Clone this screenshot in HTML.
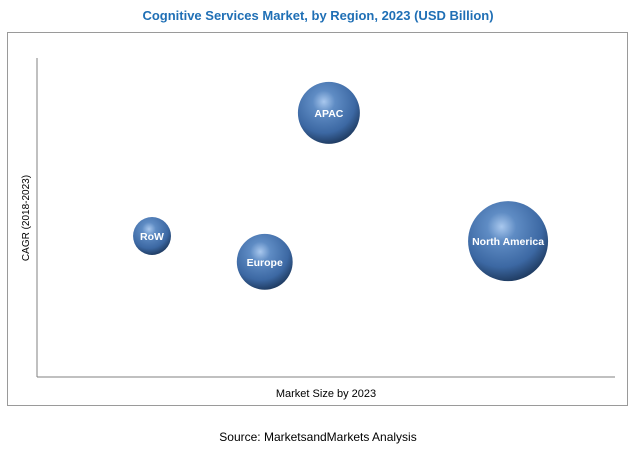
<!DOCTYPE html>
<html><head><meta charset="utf-8"><style>
body{margin:0;width:636px;height:450px;background:#fff;font-family:"Liberation Sans",sans-serif;overflow:hidden;position:relative}
.t{position:absolute}
</style></head><body>
<div class="t" style="left:0;width:636px;top:8px;text-align:center;color:#1f6fb5;font-weight:bold;font-size:13px">Cognitive Services Market, by Region, 2023 (USD Billion)</div>
<div class="t" style="left:7px;top:32px;width:621px;height:374px;border:1px solid #9a9a9a;box-sizing:border-box"></div>
<svg id="c" class="t" style="left:0;top:0" width="636" height="450">
<defs>
<radialGradient id="g" cx="0.42" cy="0.32" r="0.72">
<stop offset="0" stop-color="#a9c8ee"/>
<stop offset="0.25" stop-color="#5f8cc4"/>
<stop offset="0.7" stop-color="#3c68a3"/>
<stop offset="1" stop-color="#1b3558"/>
</radialGradient>
</defs>
<line x1="37" y1="58" x2="37" y2="377" stroke="#808080"/>
<line x1="37" y1="377" x2="615" y2="377" stroke="#808080"/>
<text x="326" y="397" text-anchor="middle" font-size="11" fill="#000">Market Size by 2023</text>
<text transform="translate(29,218) rotate(-90)" text-anchor="middle" font-size="10" fill="#000">CAGR (2018-2023)</text>
</svg>
<div class="t" style="left:0;width:636px;top:430px;text-align:center;font-size:12px;color:#000">Source: MarketsandMarkets Analysis</div>
<script>
const regions=["APAC","RoW","Europe","North America"];
const xValues=[50.5,19.9,39.4,81.5];
const yValues=[82.8,44.2,36.1,42.6];
const sizes=[9.6,3.6,7.8,16];
const xs=v=>37+v*5.78, ys=v=>377-v*3.19, rs=v=>10*Math.sqrt(v);
const svg=document.getElementById('c'),NS="http://www.w3.org/2000/svg";
regions.forEach((r,i)=>{
const c=document.createElementNS(NS,'circle');
c.setAttribute('cx',xs(xValues[i]));c.setAttribute('cy',ys(yValues[i]));c.setAttribute('r',rs(sizes[i]));c.setAttribute('fill','url(#g)');


svg.appendChild(c);
const t=document.createElementNS(NS,'text');
t.setAttribute('x',xs(xValues[i]));t.setAttribute('y',ys(yValues[i])+4);t.setAttribute('text-anchor','middle');
t.setAttribute('font-size','10.5');t.setAttribute('font-weight','bold');t.setAttribute('fill','#fff');
t.textContent=r;


svg.appendChild(t);
});
</script>
</body></html>
